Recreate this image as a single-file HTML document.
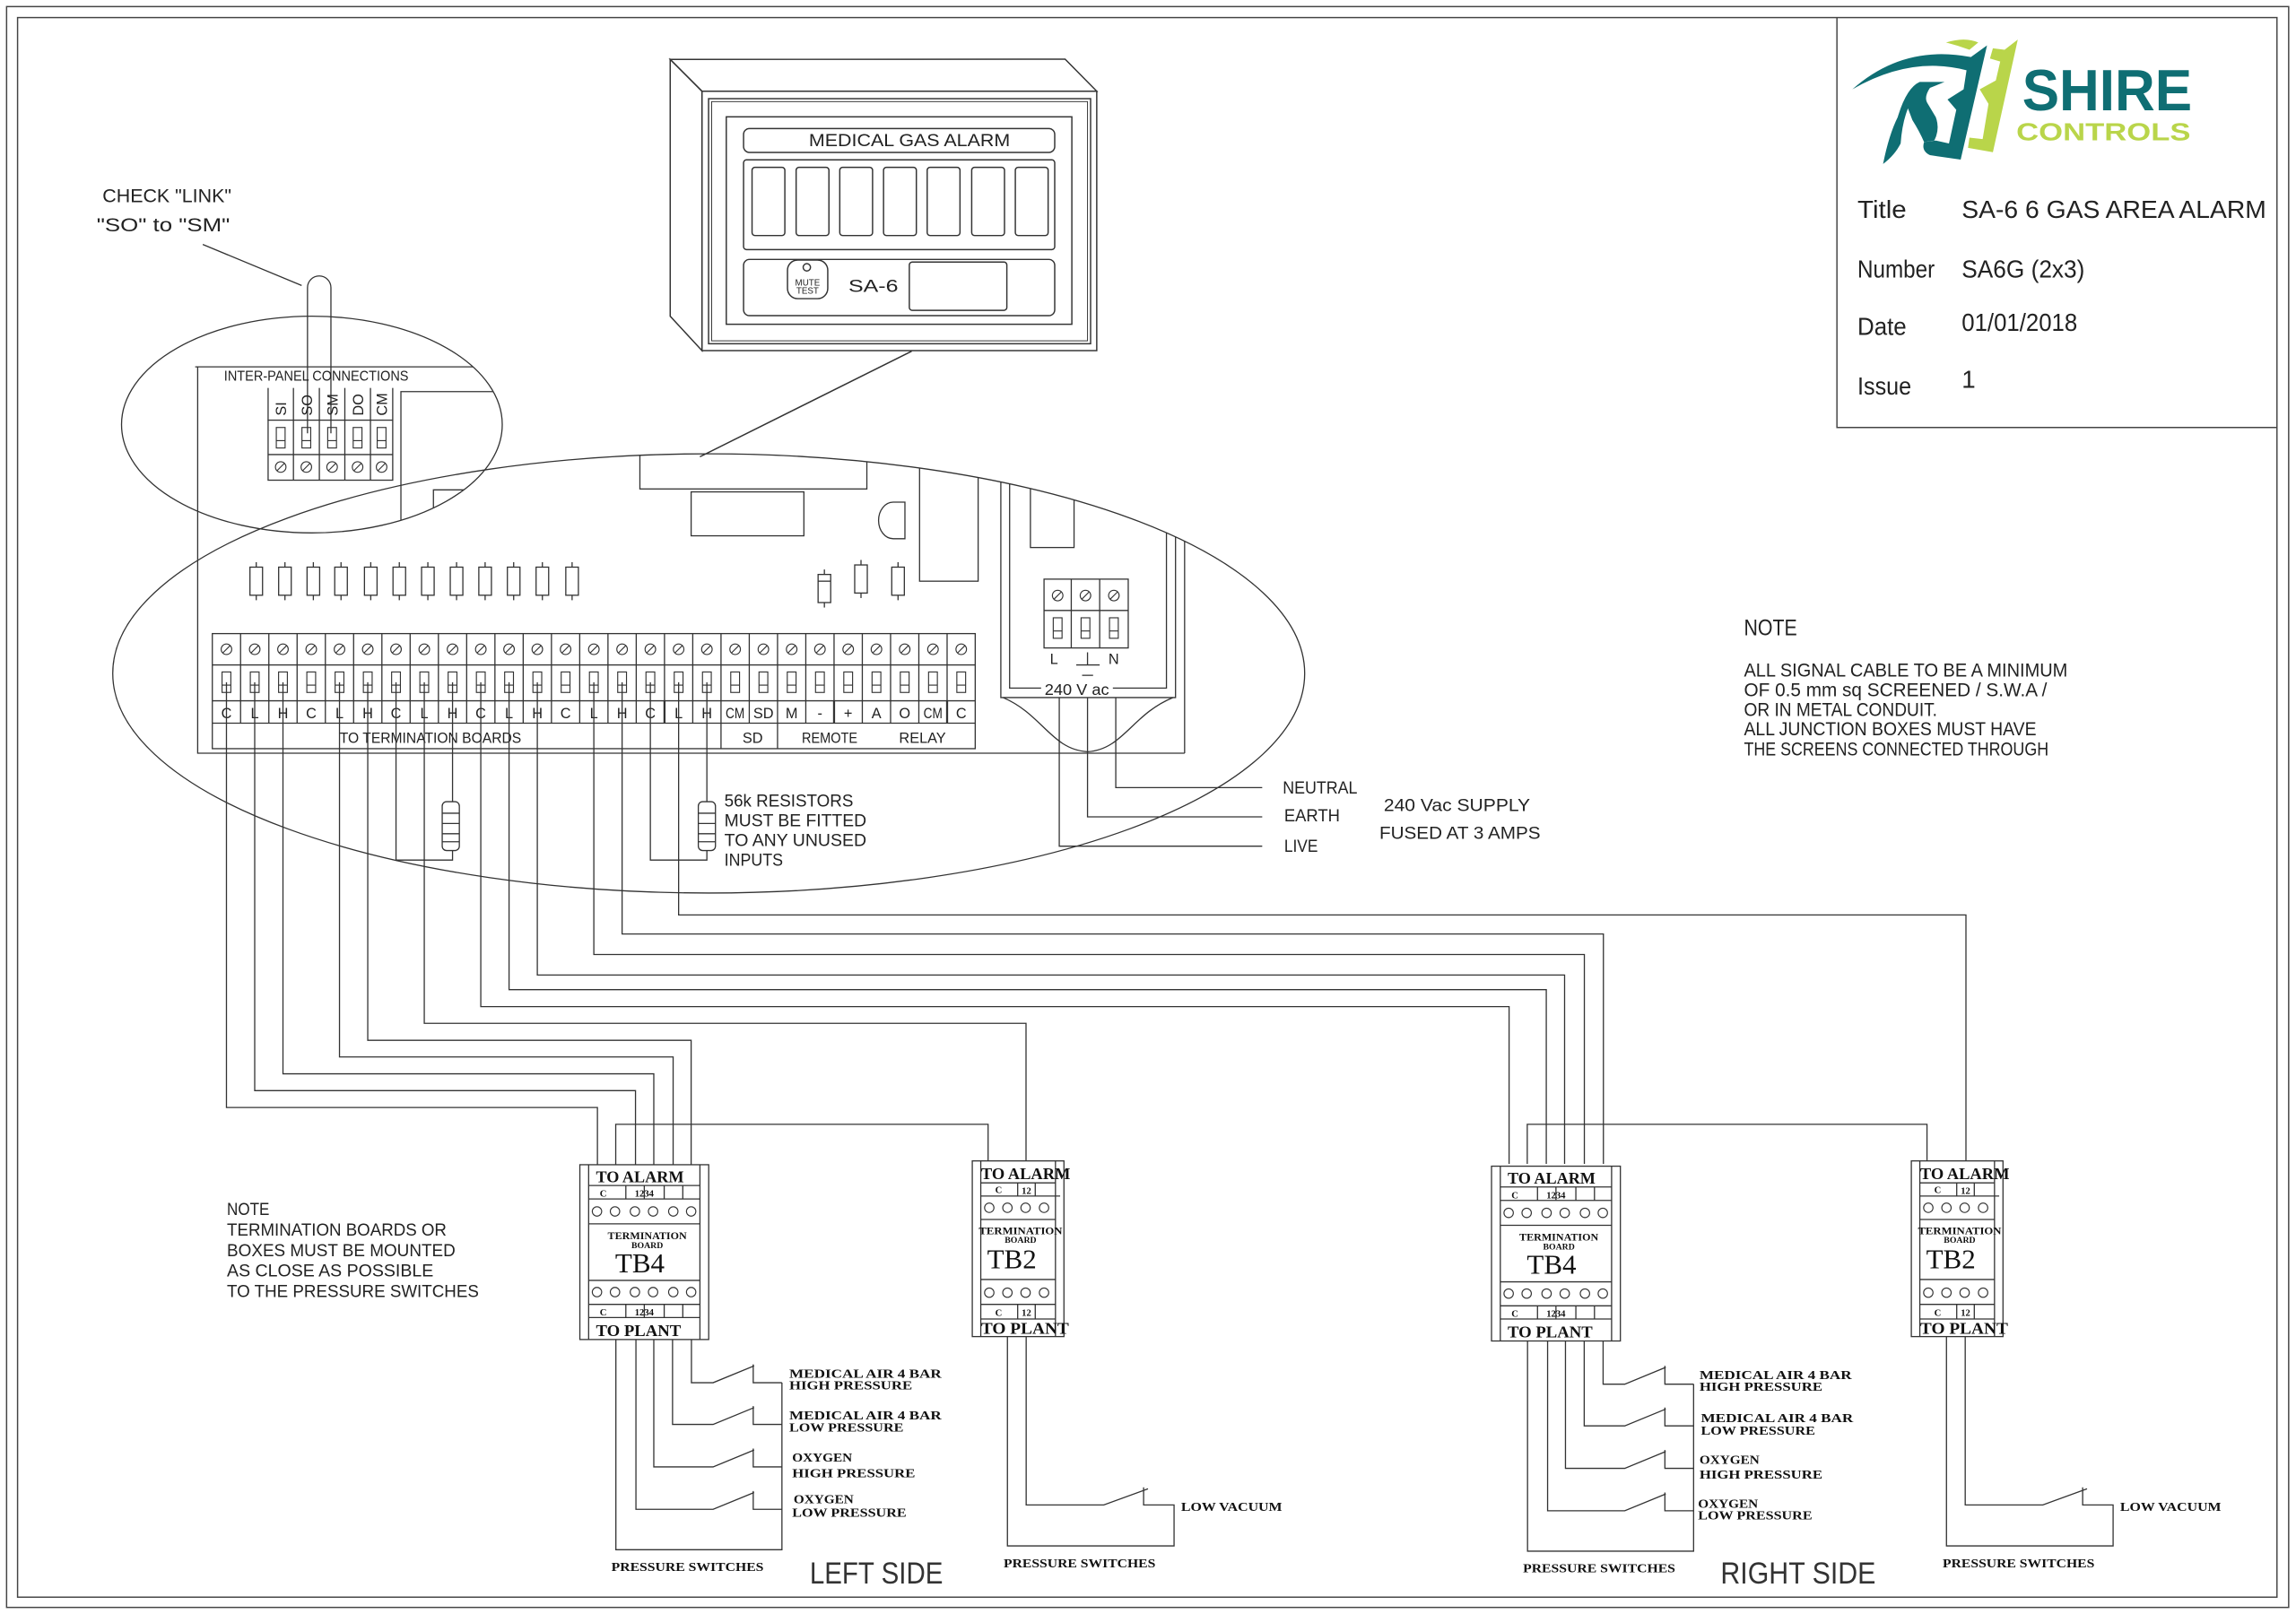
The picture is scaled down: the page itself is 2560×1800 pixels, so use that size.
<!DOCTYPE html>
<html><head><meta charset="utf-8"><style>
html,body{margin:0;padding:0;background:#fff;}
svg{display:block;}
text{font-family:"Liberation Sans",sans-serif;fill:#222;}
.s{font-family:"Liberation Serif",serif;font-weight:bold;fill:#111;}
</style></head><body>
<svg width="2560" height="1800" viewBox="0 0 1568 1102.5" xmlns="http://www.w3.org/2000/svg">
<defs>
<clipPath id="cb"><ellipse cx="484" cy="460" rx="407" ry="150"/></clipPath>
<clipPath id="cs"><ellipse cx="213" cy="290" rx="130" ry="74"/></clipPath>
<g id="sc"><circle r="3.6" fill="none" stroke="#333" stroke-width="0.7"/><line x1="-2.4" y1="2.4" x2="2.4" y2="-2.4" stroke="#333" stroke-width="0.7"/></g>
<g id="tr"><rect x="-3" y="-7" width="6" height="14" fill="none" stroke="#333" stroke-width="0.7"/><line x1="-3" y1="2" x2="3" y2="2" stroke="#333" stroke-width="0.7"/></g>
<g id="rs"><rect x="-4.3" y="-9.6" width="8.6" height="19.2" fill="none" stroke="#333" stroke-width="0.8"/><line x1="0" y1="-13" x2="0" y2="-9.6" stroke="#333" stroke-width="0.8"/><line x1="0" y1="9.6" x2="0" y2="13" stroke="#333" stroke-width="0.8"/></g>
<g id="pc"><circle r="3.2" fill="none" stroke="#333" stroke-width="0.7"/></g>
</defs>
<rect width="1568" height="1102.5" fill="#fff"/>
<g fill="none" stroke="#444" stroke-width="0.9">
<rect x="4.5" y="4.5" width="1558.5" height="1093.5"/>
<rect x="12" y="12" width="1543" height="1079"/>
<polyline points="1254.5,12 1254.5,292 1555,292"/>
</g>

<!-- Logo -->
<g>
<path d="M1265,61 Q1300,30 1346,39 L1357,31 L1339,109 L1318,106 Q1312,103 1314,97 L1322,96 L1331,98 L1336,75 L1330,68 L1341,61 L1343,48 Q1305,38 1265,61 Z" fill="#0f6e73"/>
<path d="M1286,112 Q1290,92 1296,80 Q1302,60 1311,56 L1328,56 L1318,60 Q1314,66 1316,70 L1322,80 Q1325,88 1321,96 L1314,97 Q1311,90 1306,82 L1303,74 Q1299,84 1298,98 Q1294,106 1286,112 Z" fill="#0f6e73"/>
<path d="M1329,29 Q1342,25 1351,29 L1345,34 Q1337,31 1329,29 Z" fill="#b9d54a"/>
<path d="M1361,33 L1369,34 L1378,27 L1361,104 L1344,101 L1345,94 L1354,95 L1358,71 L1352,61 L1363,55 L1366,42 L1359,40 Z" fill="#b9d54a"/>
<text x="1381" y="75.5" textLength="116" lengthAdjust="spacingAndGlyphs" style="font-size:40px;font-weight:bold;fill:#0f6e73">SHIRE</text>
<text x="1377" y="96" textLength="119" lengthAdjust="spacingAndGlyphs" style="font-size:17px;font-weight:bold;fill:#b9d54a">CONTROLS</text>
</g>
<g style="font-size:17px">
<text x="1268.5" y="149" textLength="33.5" lengthAdjust="spacingAndGlyphs">Title</text>
<text x="1339.7" y="149" textLength="208" lengthAdjust="spacingAndGlyphs">SA-6 6 GAS AREA ALARM</text>
<text x="1268.5" y="189.5" textLength="52.8" lengthAdjust="spacingAndGlyphs">Number</text>
<text x="1339.7" y="189.5" textLength="84" lengthAdjust="spacingAndGlyphs">SA6G (2x3)</text>
<text x="1268.5" y="228.7" textLength="33.5" lengthAdjust="spacingAndGlyphs">Date</text>
<text x="1339.7" y="226" textLength="79" lengthAdjust="spacingAndGlyphs">01/01/2018</text>
<text x="1268.5" y="269.4" textLength="36.8" lengthAdjust="spacingAndGlyphs">Issue</text>
<text x="1339.7" y="265">1</text>
</g>
<g style="font-size:15.5px"><text x="1191" y="434" textLength="36.3" lengthAdjust="spacingAndGlyphs">NOTE</text></g>
<g style="font-size:13px">
<text x="1191" y="462.2" textLength="221" lengthAdjust="spacingAndGlyphs">ALL SIGNAL CABLE TO BE A MINIMUM</text>
<text x="1191" y="475.6" textLength="207" lengthAdjust="spacingAndGlyphs">OF 0.5 mm sq SCREENED / S.W.A /</text>
<text x="1191" y="489" textLength="132" lengthAdjust="spacingAndGlyphs">OR IN METAL CONDUIT.</text>
<text x="1191" y="502.4" textLength="199.7" lengthAdjust="spacingAndGlyphs">ALL JUNCTION BOXES MUST HAVE</text>
<text x="1191" y="515.9" textLength="208" lengthAdjust="spacingAndGlyphs">THE SCREENS CONNECTED THROUGH</text>
</g>

<!-- Alarm box -->
<g fill="none" stroke="#333" stroke-width="0.9">
<polygon points="457.7,40.6 727.4,40.4 749,62.3 479.4,62.3"/>
<polygon points="457.7,40.6 479.4,62.3 479.4,239.5 457.7,216"/>
<rect x="479.4" y="62.3" width="269.6" height="177.2"/>
<rect x="483.9" y="67.4" width="260.9" height="167.4"/>
<rect x="486" y="69.4" width="256.7" height="163.4" stroke-width="0.6"/>
<rect x="496" y="79.8" width="236" height="141.7"/>
<rect x="507.8" y="87.8" width="212.5" height="16.3" rx="4"/>
<rect x="507.8" y="109.2" width="212.5" height="61.3" rx="2"/>
<rect x="513.6" y="114.3" width="22.4" height="46.6" rx="2"/>
<rect x="543.7" y="114.3" width="22.4" height="46.6" rx="2"/>
<rect x="573.5" y="114.3" width="22.4" height="46.6" rx="2"/>
<rect x="603.4" y="114.3" width="22.4" height="46.6" rx="2"/>
<rect x="633.2" y="114.3" width="22.4" height="46.6" rx="2"/>
<rect x="663.6" y="114.3" width="22.4" height="46.6" rx="2"/>
<rect x="693.4" y="114.3" width="22.4" height="46.6" rx="2"/>
<rect x="507.8" y="177.2" width="212.5" height="38.4" rx="4"/>
<rect x="537.8" y="177.6" width="27.5" height="26.4" rx="7"/>
<circle cx="551" cy="182.6" r="2.5"/>
<rect x="621" y="179" width="66.6" height="33" rx="2"/>
<polyline points="622.6,239.9 478,312"/>
</g>
<text x="552.4" y="100" textLength="137.4" lengthAdjust="spacingAndGlyphs" style="font-size:12px">MEDICAL GAS ALARM</text>
<text x="551.5" y="195" text-anchor="middle" style="font-size:6px">MUTE</text>
<text x="551.5" y="200.5" text-anchor="middle" style="font-size:6px">TEST</text>
<text x="579.4" y="199.4" textLength="34" lengthAdjust="spacingAndGlyphs" style="font-size:12px">SA-6</text>

<!-- Check link -->
<text x="70" y="138" textLength="88" lengthAdjust="spacingAndGlyphs" style="font-size:13px">CHECK "LINK"</text>
<text x="66" y="158" textLength="91" lengthAdjust="spacingAndGlyphs" style="font-size:13px">"SO" to "SM"</text>
<g fill="none" stroke="#333" stroke-width="0.8">
<line x1="138.5" y1="167" x2="206" y2="195"/>
<path d="M210,296 V196.5 A8,8 0 0 1 226,196.5 V296"/>
<ellipse cx="213" cy="290" rx="130" ry="74"/>
<ellipse cx="484" cy="460" rx="407" ry="150"/>
</g>
<g clip-path="url(#cs)" fill="none" stroke="#333" stroke-width="0.8">
<polyline points="133.3,250.6 360,250.6"/>
<polyline points="273.8,380 273.8,267.5 360,267.5"/>
<polyline points="296,380 296,334.6 360,334.6"/>
</g>
<text x="153" y="260" textLength="126" lengthAdjust="spacingAndGlyphs" style="font-size:9.5px">INTER-PANEL CONNECTIONS</text>
<g fill="none" stroke="#333" stroke-width="0.8">
<rect x="183.1" y="287" width="85.1" height="41"/>
<line x1="183.1" y1="310.5" x2="268.2" y2="310.5"/>
<line x1="200.4" y1="265" x2="200.4" y2="328"/><line x1="218.1" y1="265" x2="218.1" y2="328"/><line x1="235.5" y1="265" x2="235.5" y2="328"/><line x1="253" y1="265" x2="253" y2="328"/>
<line x1="183.1" y1="265" x2="183.1" y2="287"/><line x1="268.2" y1="265" x2="268.2" y2="287"/>
</g>
<use href="#tr" x="191.7" y="299"/><use href="#tr" x="209.2" y="299"/><use href="#tr" x="226.8" y="299"/><use href="#tr" x="244.2" y="299"/><use href="#tr" x="260.6" y="299"/>
<use href="#sc" x="191.7" y="319"/><use href="#sc" x="209.2" y="319"/><use href="#sc" x="226.8" y="319"/><use href="#sc" x="244.2" y="319"/><use href="#sc" x="260.6" y="319"/>
<g style="font-size:10px">
<text transform="translate(195.5,284) rotate(-90)">SI</text>
<text transform="translate(213,284) rotate(-90)">SO</text>
<text transform="translate(230.6,284) rotate(-90)">SM</text>
<text transform="translate(248,284) rotate(-90)">DO</text>
<text transform="translate(264.4,284) rotate(-90)">CM</text>
</g>

<!-- PCB in big ellipse -->
<g clip-path="url(#cb)" fill="none" stroke="#333" stroke-width="0.8">
<rect x="437" y="300" width="155" height="34"/>
<rect x="472" y="336" width="77" height="30"/>
<path d="M618,343 V368 H610 A10,12.5 0 0 1 610,343 Z"/>
<rect x="628" y="300" width="40" height="97"/>
<polyline points="683.5,300 683.5,476.5 802.8,476.5 802.8,300"/>
<polyline points="689.5,300 689.5,470 711,470"/>
<polyline points="760,470 796.6,470 796.6,300"/>
<rect x="703.7" y="300" width="29.8" height="74"/>
<polyline points="809,300 809,514.5"/>
</g>
<g fill="none" stroke="#333" stroke-width="0.8">
<polyline points="135,250.6 135,514.5 809,514.5"/>
<path d="M685,476.5 C712,488 718,512 742.7,513.5 C767,512 773,488 801,476.5"/>
<rect x="713" y="395.6" width="57.5" height="47"/>
<line x1="713" y1="417" x2="770.5" y2="417"/>
<line x1="731.6" y1="395.6" x2="731.6" y2="442.6"/><line x1="751" y1="395.6" x2="751" y2="442.6"/>
<line x1="742.7" y1="445.6" x2="742.7" y2="454.2"/><line x1="735" y1="454.2" x2="751" y2="454.2"/><line x1="739" y1="461.3" x2="746.5" y2="461.3"/>
<polyline points="762,476.5 762,538 862,538"/>
<polyline points="742.7,476.5 742.7,558 862,558"/>
<polyline points="723.4,476.5 723.4,578 862,578"/>
</g>
<use href="#sc" x="722.3" y="406.8"/><use href="#sc" x="741.3" y="406.8"/><use href="#sc" x="760.7" y="406.8"/>
<use href="#tr" x="722.3" y="429"/><use href="#tr" x="741.3" y="429"/><use href="#tr" x="760.7" y="429"/>
<text x="717" y="453.5" style="font-size:10px">L</text><text x="757" y="453.5" style="font-size:10px">N</text>
<text x="713.4" y="474.6" textLength="44" lengthAdjust="spacingAndGlyphs" style="font-size:11px">240 V ac</text>
<g style="font-size:12px">
<text x="876" y="542" textLength="51" lengthAdjust="spacingAndGlyphs">NEUTRAL</text>
<text x="877" y="561" textLength="38" lengthAdjust="spacingAndGlyphs">EARTH</text>
<text x="877" y="582" textLength="23" lengthAdjust="spacingAndGlyphs">LIVE</text>
<text x="945" y="554" textLength="100" lengthAdjust="spacingAndGlyphs">240 Vac SUPPLY</text>
<text x="942" y="573" textLength="110" lengthAdjust="spacingAndGlyphs">FUSED AT 3 AMPS</text>
<text x="494.7" y="551" textLength="88" lengthAdjust="spacingAndGlyphs">56k RESISTORS</text>
<text x="494.7" y="564.5" textLength="97" lengthAdjust="spacingAndGlyphs">MUST BE FITTED</text>
<text x="494.7" y="578" textLength="97" lengthAdjust="spacingAndGlyphs">TO ANY UNUSED</text>
<text x="494.7" y="591.5" textLength="40" lengthAdjust="spacingAndGlyphs">INPUTS</text>
<text x="155" y="830" textLength="29" lengthAdjust="spacingAndGlyphs">NOTE</text>
<text x="155" y="844" textLength="150" lengthAdjust="spacingAndGlyphs">TERMINATION BOARDS OR</text>
<text x="155" y="858" textLength="156" lengthAdjust="spacingAndGlyphs">BOXES MUST BE MOUNTED</text>
<text x="155" y="872" textLength="141" lengthAdjust="spacingAndGlyphs">AS CLOSE AS POSSIBLE</text>
<text x="155" y="886" textLength="172" lengthAdjust="spacingAndGlyphs">TO THE PRESSURE SWITCHES</text>
</g>

<!-- top resistors -->
<use href="#rs" x="175" y="397"/><use href="#rs" x="194.6" y="397"/><use href="#rs" x="214" y="397"/><use href="#rs" x="232.9" y="397"/><use href="#rs" x="253.2" y="397"/><use href="#rs" x="272.7" y="397"/><use href="#rs" x="292.2" y="397"/><use href="#rs" x="311.8" y="397"/><use href="#rs" x="331.3" y="397"/><use href="#rs" x="350.8" y="397"/><use href="#rs" x="370.4" y="397"/><use href="#rs" x="390.7" y="397"/>
<use href="#rs" x="563" y="402"/><line x1="558.7" y1="397" x2="567.3" y2="397" stroke="#333" stroke-width="0.8"/>
<use href="#rs" x="588" y="395.5"/><use href="#rs" x="613.3" y="397"/>

<!-- main terminal block -->
<g fill="none" stroke="#333" stroke-width="0.8">
<rect x="145" y="432.8" width="521" height="78.6"/>
<line x1="145" y1="454.2" x2="666" y2="454.2"/>
<line x1="145" y1="478.7" x2="666" y2="478.7"/>
<line x1="145" y1="494" x2="666" y2="494"/>
<path d="M164.3,432.8V494M183.6,432.8V494M202.9,432.8V494M222.2,432.8V494M241.5,432.8V494M260.8,432.8V494M280.1,432.8V494M299.4,432.8V494M318.7,432.8V494M338,432.8V494M357.3,432.8V494M376.6,432.8V494M395.9,432.8V494M415.2,432.8V494M434.5,432.8V494M453.8,432.8V494M473.1,432.8V494M492.4,432.8V511.4M511.7,432.8V494M531,432.8V511.4M550.3,432.8V494M569.6,432.8V494M588.9,432.8V494M608.2,432.8V494M627.5,432.8V494M646.8,432.8V494"/>
<line x1="453.8" y1="478.7" x2="453.8" y2="494" stroke-width="1.4"/>
<line x1="569.6" y1="478.7" x2="569.6" y2="494" stroke-width="1.4"/>
<line x1="646.8" y1="478.7" x2="646.8" y2="494" stroke-width="1.4"/>
</g>
<g>
<use href="#sc" x="154.65" y="443.5"/><use href="#sc" x="173.95" y="443.5"/><use href="#sc" x="193.25" y="443.5"/><use href="#sc" x="212.55" y="443.5"/><use href="#sc" x="231.85" y="443.5"/><use href="#sc" x="251.15" y="443.5"/><use href="#sc" x="270.45" y="443.5"/><use href="#sc" x="289.75" y="443.5"/><use href="#sc" x="309.05" y="443.5"/><use href="#sc" x="328.35" y="443.5"/><use href="#sc" x="347.65" y="443.5"/><use href="#sc" x="366.95" y="443.5"/><use href="#sc" x="386.25" y="443.5"/><use href="#sc" x="405.55" y="443.5"/><use href="#sc" x="424.85" y="443.5"/><use href="#sc" x="444.15" y="443.5"/><use href="#sc" x="463.45" y="443.5"/><use href="#sc" x="482.75" y="443.5"/><use href="#sc" x="502.05" y="443.5"/><use href="#sc" x="521.35" y="443.5"/><use href="#sc" x="540.65" y="443.5"/><use href="#sc" x="559.95" y="443.5"/><use href="#sc" x="579.25" y="443.5"/><use href="#sc" x="598.55" y="443.5"/><use href="#sc" x="617.85" y="443.5"/><use href="#sc" x="637.15" y="443.5"/><use href="#sc" x="656.45" y="443.5"/>
<use href="#tr" x="154.65" y="466"/><use href="#tr" x="173.95" y="466"/><use href="#tr" x="193.25" y="466"/><use href="#tr" x="212.55" y="466"/><use href="#tr" x="231.85" y="466"/><use href="#tr" x="251.15" y="466"/><use href="#tr" x="270.45" y="466"/><use href="#tr" x="289.75" y="466"/><use href="#tr" x="309.05" y="466"/><use href="#tr" x="328.35" y="466"/><use href="#tr" x="347.65" y="466"/><use href="#tr" x="366.95" y="466"/><use href="#tr" x="386.25" y="466"/><use href="#tr" x="405.55" y="466"/><use href="#tr" x="424.85" y="466"/><use href="#tr" x="444.15" y="466"/><use href="#tr" x="463.45" y="466"/><use href="#tr" x="482.75" y="466"/><use href="#tr" x="502.05" y="466"/><use href="#tr" x="521.35" y="466"/><use href="#tr" x="540.65" y="466"/><use href="#tr" x="559.95" y="466"/><use href="#tr" x="579.25" y="466"/><use href="#tr" x="598.55" y="466"/><use href="#tr" x="617.85" y="466"/><use href="#tr" x="637.15" y="466"/><use href="#tr" x="656.45" y="466"/>
</g>
<g style="font-size:10px" text-anchor="middle">
<text x="154.65" y="490.5">C</text><text x="173.95" y="490.5">L</text><text x="193.25" y="490.5">H</text><text x="212.55" y="490.5">C</text><text x="231.85" y="490.5">L</text><text x="251.15" y="490.5">H</text><text x="270.45" y="490.5">C</text><text x="289.75" y="490.5">L</text><text x="309.05" y="490.5">H</text><text x="328.35" y="490.5">C</text><text x="347.65" y="490.5">L</text><text x="366.95" y="490.5">H</text><text x="386.25" y="490.5">C</text><text x="405.55" y="490.5">L</text><text x="424.85" y="490.5">H</text><text x="444.15" y="490.5">C</text><text x="463.45" y="490.5">L</text><text x="482.75" y="490.5">H</text><text x="502.05" y="490.5" textLength="13" lengthAdjust="spacingAndGlyphs">CM</text><text x="521.35" y="490.5">SD</text><text x="540.65" y="490.5">M</text><text x="559.95" y="490.5">-</text><text x="579.25" y="490.5">+</text><text x="598.55" y="490.5">A</text><text x="617.85" y="490.5">O</text><text x="637.15" y="490.5" textLength="13" lengthAdjust="spacingAndGlyphs">CM</text><text x="656.45" y="490.5">C</text>
<text x="294" y="507.5" textLength="124" lengthAdjust="spacingAndGlyphs">TO TERMINATION BOARDS</text>
<text x="514" y="507.5">SD</text>
<text x="566.6" y="507.5" textLength="38" lengthAdjust="spacingAndGlyphs">REMOTE</text>
<text x="630" y="507.5" textLength="32" lengthAdjust="spacingAndGlyphs">RELAY</text>
</g>

<!-- wires -->
<g fill="none" stroke="#333" stroke-width="0.8">
<polyline points="154.65,466 154.65,756.5 408,756.5 408,795.6"/>
<polyline points="173.95,466 173.95,745 434,745 434,795.6"/>
<polyline points="193.25,466 193.25,733.5 446.5,733.5 446.5,795.6"/>
<polyline points="231.85,466 231.85,722 459.7,722 459.7,795.6"/>
<polyline points="251.15,466 251.15,710.6 472,710.6 472,795.6"/>
<polyline points="289.75,466 289.75,699 700.7,699 700.7,793"/>
<polyline points="328.35,466 328.35,687.6 1030.6,687.6 1030.6,795"/>
<polyline points="347.65,466 347.65,676 1056,676 1056,795"/>
<polyline points="366.95,466 366.95,666 1068.5,666 1068.5,795"/>
<polyline points="405.55,466 405.55,652 1082,652 1082,795"/>
<polyline points="424.85,466 424.85,638 1095,638 1095,795"/>
<polyline points="463.45,466 463.45,625 1342.6,625 1342.6,793"/>
<polyline points="420.5,795.6 420.5,768 674.8,768 674.8,793"/>
<polyline points="1043,795 1043,768 1316,768 1316,793"/>
<polyline points="270.45,466 270.45,587.5 309.05,587.5 309.05,581"/>
<line x1="309.05" y1="466" x2="309.05" y2="547.6"/>
<rect x="302" y="547.6" width="11.7" height="33.4" rx="3"/>
<path d="M302,555.5H313.7M302,562.5H313.7M302,569.5H313.7M302,575H313.7"/>
<polyline points="444.15,466 444.15,587.5 482.75,587.5 482.75,581"/>
<line x1="482.75" y1="466" x2="482.75" y2="547.6"/>
<rect x="476.9" y="547.6" width="11.7" height="33.4" rx="3"/>
<path d="M476.9,555.5H488.6M476.9,562.5H488.6M476.9,569.5H488.6M476.9,575H488.6"/>
</g>

<!-- TB4 template -->
<g id="tb4">
<g fill="none" stroke="#333" stroke-width="0.8">
<rect x="396" y="795.6" width="88" height="119.4"/>
<line x1="402" y1="795.6" x2="402" y2="915"/><line x1="478" y1="795.6" x2="478" y2="915"/>
<path d="M402,809.8H478M402,819H478M402,836H478M402,874.6H478M402,891H478M402,900H478"/>
<path d="M427.4,809.8V819M453.6,809.8V819M466.3,809.8V819M440,809.8V819M427.4,891V900M453.6,891V900M466.3,891V900M440,891V900"/>
<polyline points="472.2,915 472.2,944.5 487,944.5 515,933"/>
<polyline points="514.4,932 514.4,944.5 534,944.5"/>
<polyline points="459.3,915 459.3,973 487,973 515,961.5"/>
<polyline points="514.4,960.5 514.4,973 534,973"/>
<polyline points="446.5,915 446.5,1002 487,1002 515,990.5"/>
<polyline points="514.4,989.5 514.4,1002 534,1002"/>
<polyline points="434.3,915 434.3,1031 487,1031 515,1019.5"/>
<polyline points="514.4,1018.5 514.4,1031 534,1031"/>
<polyline points="420.6,915 420.6,1058.6 534,1058.6 534,944.5"/>
</g>
<use href="#pc" x="407.7" y="827.5"/><use href="#pc" x="420" y="827.5"/><use href="#pc" x="433.6" y="827.5"/><use href="#pc" x="446" y="827.5"/><use href="#pc" x="459.8" y="827.5"/><use href="#pc" x="472" y="827.5"/>
<use href="#pc" x="407.7" y="882.6"/><use href="#pc" x="420" y="882.6"/><use href="#pc" x="433.6" y="882.6"/><use href="#pc" x="446" y="882.6"/><use href="#pc" x="459.8" y="882.6"/><use href="#pc" x="472" y="882.6"/>
<text class="s" x="407" y="807.5" textLength="60" lengthAdjust="spacingAndGlyphs" style="font-size:11px">TO ALARM</text>
<text class="s" x="412" y="817.5" text-anchor="middle" style="font-size:6.5px">C</text>
<text class="s" x="440" y="817.5" text-anchor="middle" style="font-size:6.5px">1234</text>
<text class="s" x="442" y="846.5" text-anchor="middle" textLength="54" lengthAdjust="spacingAndGlyphs" style="font-size:7px">TERMINATION</text>
<text class="s" x="442" y="852.5" text-anchor="middle" style="font-size:6px">BOARD</text>
<text x="437" y="869" text-anchor="middle" style="font-family:'Liberation Serif',serif;font-size:19px;fill:#111">TB4</text>
<text class="s" x="412" y="898.5" text-anchor="middle" style="font-size:6.5px">C</text>
<text class="s" x="440" y="898.5" text-anchor="middle" style="font-size:6.5px">1234</text>
<text class="s" x="407" y="912.5" textLength="58" lengthAdjust="spacingAndGlyphs" style="font-size:11px">TO PLANT</text>
<g class="s" style="font-size:8.5px">
<text class="s" x="539" y="941" textLength="104" lengthAdjust="spacingAndGlyphs">MEDICAL AIR 4 BAR</text>
<text class="s" x="539" y="949" textLength="84" lengthAdjust="spacingAndGlyphs">HIGH PRESSURE</text>
<text class="s" x="539" y="969.7" textLength="104" lengthAdjust="spacingAndGlyphs">MEDICAL AIR 4 BAR</text>
<text class="s" x="539" y="978" textLength="78" lengthAdjust="spacingAndGlyphs">LOW PRESSURE</text>
<text class="s" x="541" y="998.5" textLength="41" lengthAdjust="spacingAndGlyphs">OXYGEN</text>
<text class="s" x="541" y="1009" textLength="84" lengthAdjust="spacingAndGlyphs">HIGH PRESSURE</text>
<text class="s" x="542" y="1027" textLength="41" lengthAdjust="spacingAndGlyphs">OXYGEN</text>
<text class="s" x="541" y="1036" textLength="78" lengthAdjust="spacingAndGlyphs">LOW PRESSURE</text>
<text class="s" x="417.5" y="1073" textLength="104" lengthAdjust="spacingAndGlyphs">PRESSURE SWITCHES</text>
</g>
</g>
<g transform="translate(622.6,1)">
<g fill="none" stroke="#333" stroke-width="0.8">
<rect x="396" y="795.6" width="88" height="119.4"/>
<line x1="402" y1="795.6" x2="402" y2="915"/><line x1="478" y1="795.6" x2="478" y2="915"/>
<path d="M402,809.8H478M402,819H478M402,836H478M402,874.6H478M402,891H478M402,900H478"/>
<path d="M427.4,809.8V819M453.6,809.8V819M466.3,809.8V819M440,809.8V819M427.4,891V900M453.6,891V900M466.3,891V900M440,891V900"/>
<polyline points="472.2,915 472.2,944.5 487,944.5 515,933"/>
<polyline points="514.4,932 514.4,944.5 534,944.5"/>
<polyline points="459.3,915 459.3,973 487,973 515,961.5"/>
<polyline points="514.4,960.5 514.4,973 534,973"/>
<polyline points="446.5,915 446.5,1002 487,1002 515,990.5"/>
<polyline points="514.4,989.5 514.4,1002 534,1002"/>
<polyline points="434.3,915 434.3,1031 487,1031 515,1019.5"/>
<polyline points="514.4,1018.5 514.4,1031 534,1031"/>
<polyline points="420.6,915 420.6,1058.6 534,1058.6 534,944.5"/>
</g>
<use href="#pc" x="407.7" y="827.5"/><use href="#pc" x="420" y="827.5"/><use href="#pc" x="433.6" y="827.5"/><use href="#pc" x="446" y="827.5"/><use href="#pc" x="459.8" y="827.5"/><use href="#pc" x="472" y="827.5"/>
<use href="#pc" x="407.7" y="882.6"/><use href="#pc" x="420" y="882.6"/><use href="#pc" x="433.6" y="882.6"/><use href="#pc" x="446" y="882.6"/><use href="#pc" x="459.8" y="882.6"/><use href="#pc" x="472" y="882.6"/>
<text class="s" x="407" y="807.5" textLength="60" lengthAdjust="spacingAndGlyphs" style="font-size:11px">TO ALARM</text>
<text class="s" x="412" y="817.5" text-anchor="middle" style="font-size:6.5px">C</text>
<text class="s" x="440" y="817.5" text-anchor="middle" style="font-size:6.5px">1234</text>
<text class="s" x="442" y="846.5" text-anchor="middle" textLength="54" lengthAdjust="spacingAndGlyphs" style="font-size:7px">TERMINATION</text>
<text class="s" x="442" y="852.5" text-anchor="middle" style="font-size:6px">BOARD</text>
<text x="437" y="869" text-anchor="middle" style="font-family:'Liberation Serif',serif;font-size:19px;fill:#111">TB4</text>
<text class="s" x="412" y="898.5" text-anchor="middle" style="font-size:6.5px">C</text>
<text class="s" x="440" y="898.5" text-anchor="middle" style="font-size:6.5px">1234</text>
<text class="s" x="407" y="912.5" textLength="58" lengthAdjust="spacingAndGlyphs" style="font-size:11px">TO PLANT</text>
<g style="font-size:8.5px">
<text class="s" x="538" y="941" textLength="104" lengthAdjust="spacingAndGlyphs">MEDICAL AIR 4 BAR</text>
<text class="s" x="538" y="949" textLength="84" lengthAdjust="spacingAndGlyphs">HIGH PRESSURE</text>
<text class="s" x="539" y="970.5" textLength="104" lengthAdjust="spacingAndGlyphs">MEDICAL AIR 4 BAR</text>
<text class="s" x="539" y="979" textLength="78" lengthAdjust="spacingAndGlyphs">LOW PRESSURE</text>
<text class="s" x="538" y="999" textLength="41" lengthAdjust="spacingAndGlyphs">OXYGEN</text>
<text class="s" x="538" y="1009" textLength="84" lengthAdjust="spacingAndGlyphs">HIGH PRESSURE</text>
<text class="s" x="537" y="1029" textLength="41" lengthAdjust="spacingAndGlyphs">OXYGEN</text>
<text class="s" x="537" y="1037" textLength="78" lengthAdjust="spacingAndGlyphs">LOW PRESSURE</text>
<text class="s" x="417.5" y="1073" textLength="104" lengthAdjust="spacingAndGlyphs">PRESSURE SWITCHES</text>
</g>
</g>

<!-- TB2 left -->
<g id="tb2">
<g fill="none" stroke="#333" stroke-width="0.8">
<rect x="664" y="793" width="62.6" height="120"/>
<line x1="669.8" y1="793" x2="669.8" y2="913"/><line x1="720.8" y1="793" x2="720.8" y2="913"/>
<path d="M669.8,808H720.8M669.8,817H724M669.8,833H720.8M669.8,874H720.8M669.8,891H720.8M669.8,901H720.8"/>
<path d="M695,808V817M707,808V817M695,891V901M707,891V901"/>
<polyline points="700.8,913 700.8,1028 753.8,1028 784,1017"/>
<polyline points="781,1016 781,1028 801.8,1028 801.8,1056 688,1056 688,913"/>
</g>
<use href="#pc" x="675.6" y="825"/><use href="#pc" x="688" y="825"/><use href="#pc" x="700.4" y="825"/><use href="#pc" x="713" y="825"/>
<use href="#pc" x="675.6" y="883"/><use href="#pc" x="688" y="883"/><use href="#pc" x="700.4" y="883"/><use href="#pc" x="713" y="883"/>
<text class="s" x="670" y="805.5" textLength="61" lengthAdjust="spacingAndGlyphs" style="font-size:11px">TO ALARM</text>
<text class="s" x="682" y="815" text-anchor="middle" style="font-size:6.5px">C</text>
<text class="s" x="701" y="815.5" text-anchor="middle" style="font-size:6.5px">12</text>
<text class="s" x="697" y="843" text-anchor="middle" textLength="57" lengthAdjust="spacingAndGlyphs" style="font-size:7px">TERMINATION</text>
<text class="s" x="697" y="849" text-anchor="middle" style="font-size:6px">BOARD</text>
<text x="691" y="866.5" text-anchor="middle" style="font-family:'Liberation Serif',serif;font-size:19px;fill:#111">TB2</text>
<text class="s" x="682" y="899" text-anchor="middle" style="font-size:6.5px">C</text>
<text class="s" x="701" y="899" text-anchor="middle" style="font-size:6.5px">12</text>
<text class="s" x="670" y="911" textLength="60" lengthAdjust="spacingAndGlyphs" style="font-size:11px">TO PLANT</text>
<text class="s" x="806.6" y="1032" textLength="69" lengthAdjust="spacingAndGlyphs" style="font-size:8.5px">LOW VACUUM</text>
<text class="s" x="685.4" y="1070.6" textLength="103.7" lengthAdjust="spacingAndGlyphs" style="font-size:8.5px">PRESSURE SWITCHES</text>
</g>
<use href="#tb2" x="641.3" y="0"/>

<text x="553" y="1081.7" textLength="91" lengthAdjust="spacingAndGlyphs" style="font-size:21px;fill:#333">LEFT SIDE</text>
<text x="1175" y="1081.7" textLength="106" lengthAdjust="spacingAndGlyphs" style="font-size:21px;fill:#333">RIGHT SIDE</text>
</svg>
</body></html>
